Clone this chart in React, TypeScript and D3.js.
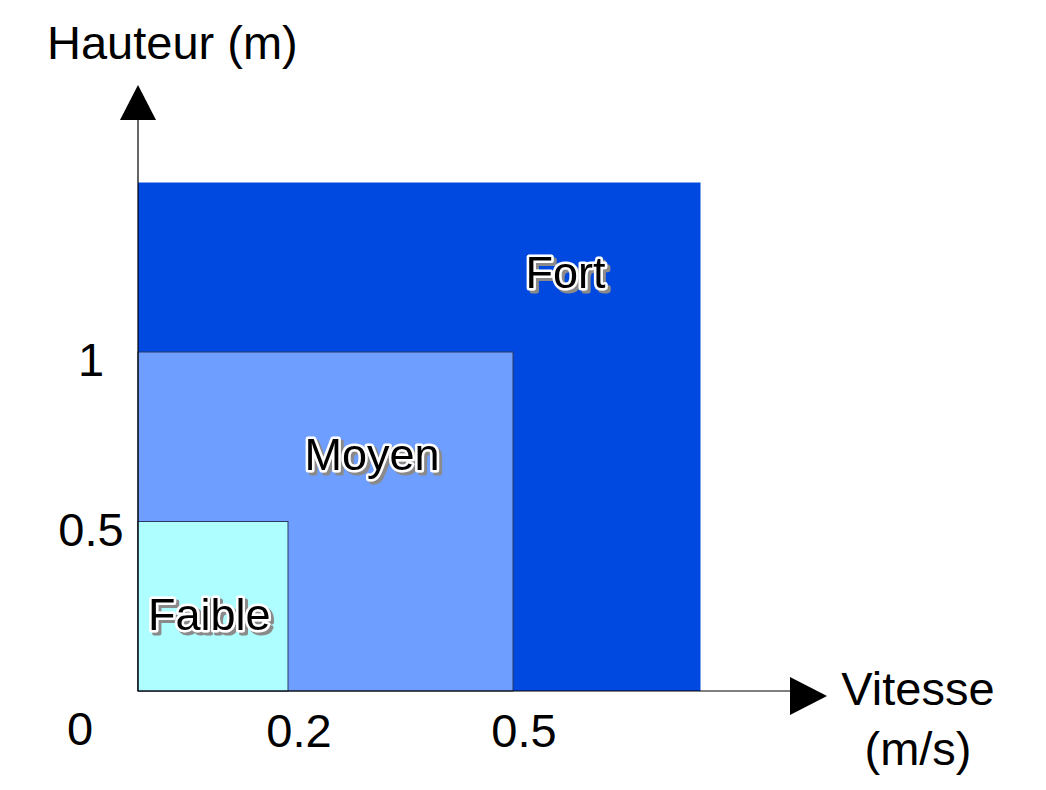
import React from 'react';
import * as d3 from 'd3';

// zones: upper bound of speed (m/s) and height (m)
const zoneNames = ['Fort', 'Moyen', 'Faible'];
const zoneSpeed = [0.75, 0.5, 0.2];
const zoneHeight = [1.5, 1, 0.5];
const zoneColors = ['#0049E0', '#6E9EFF', '#AEFEFF'];

const xTicks = [0.2, 0.5];
const xTickLabels = ['0.2', '0.5'];
const yTicks = [0.5, 1];
const yTickLabels = ['0.5', '1'];

const W = 1046;
const H = 790;

const FONT = '"Liberation Sans", Arial, sans-serif';

// label anchors in data units (centre x, baseline y)
const labelPos: Record<string, [number, number]> = {
  Fort: [0.57, 1.19],
  Moyen: [0.312, 0.652],
  Faible: [0.095, 0.18],
};

export default function App() {
  const origin = { x: 138, y: 691 };
  const xScale = d3.scaleLinear().domain([0, 1]).range([origin.x, origin.x + 750]);
  const yScale = d3.scaleLinear().domain([0, 1]).range([origin.y, origin.y - 339]);

  const yArrowTop = 85;
  const xArrowEnd = 827;

  return (
    <svg width={W} height={H} style={{ position: 'absolute', left: 0, top: 0, background: '#fff' }}>
      <defs>
        <filter id="embossShadow" x="-10%" y="-20%" width="130%" height="150%">
          <feDropShadow dx={3} dy={3} stdDeviation={0.6} floodColor="#8a8a8a" floodOpacity={1} />
        </filter>
      </defs>

      {zoneNames.map((name, i) => (
        <rect
          key={name}
          x={xScale(0)}
          y={yScale(zoneHeight[i])}
          width={xScale(zoneSpeed[i]) - xScale(0)}
          height={yScale(0) - yScale(zoneHeight[i])}
          fill={zoneColors[i]}
          stroke={i === 0 ? 'none' : '#2a3a60'}
          strokeWidth={1}
        />
      ))}

      {/* axes */}
      <line x1={origin.x} y1={origin.y} x2={xArrowEnd - 36} y2={origin.y} stroke="#000" strokeWidth={1.2} />
      <line x1={origin.x} y1={origin.y} x2={origin.x} y2={yArrowTop + 35} stroke="#000" strokeWidth={1.2} />
      <path
        d={`M${origin.x},${yArrowTop} L${origin.x + 18},${yArrowTop + 35} L${origin.x - 18},${yArrowTop + 35} Z`}
        fill="#000"
      />
      <path
        d={`M${xArrowEnd},${origin.y + 5} L${xArrowEnd - 37},${origin.y - 14} L${xArrowEnd - 37},${origin.y + 24} Z`}
        fill="#000"
      />

      <g fontFamily={FONT} fontSize={47} fill="#000">
        <text x={47} y={59}>Hauteur (m)</text>
        <text x={918} y={705} textAnchor="middle">Vitesse</text>
        <text x={918} y={765} textAnchor="middle">(m/s)</text>
        <text x={80} y={745} textAnchor="middle">0</text>
        {xTicks.map((t, i) => (
          <text key={t} x={xScale(t) + 11} y={747} textAnchor="middle">
            {xTickLabels[i]}
          </text>
        ))}
        {yTicks.map((t, i) => (
          <text key={t} x={origin.x - 47} y={yScale(t) + 24} textAnchor="middle">
            {yTickLabels[i]}
          </text>
        ))}
      </g>

      {zoneNames.map((name) => (
        <text
          key={name}
          x={xScale(labelPos[name][0])}
          y={yScale(labelPos[name][1])}
          fontFamily={FONT}
          fontSize={45}
          textAnchor="middle"
          fill="#000"
          stroke="#fff"
          strokeWidth={5}
          strokeLinejoin="round"
          paintOrder="stroke"
          filter="url(#embossShadow)"
        >
          {name}
        </text>
      ))}
    </svg>
  );
}
